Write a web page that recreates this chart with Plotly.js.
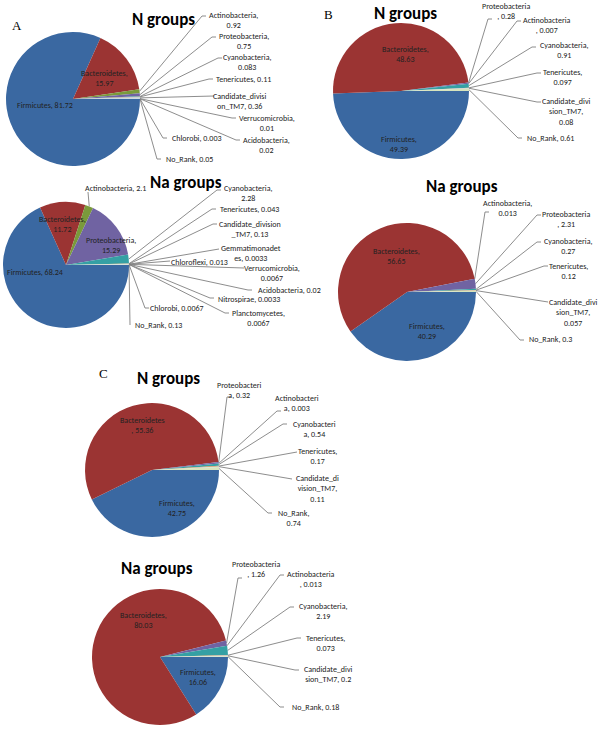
<!DOCTYPE html>
<html><head><meta charset="utf-8">
<script src="https://cdn.plot.ly/plotly-3.0.1.min.js"></script>
<style>html,body{margin:0;padding:0;background:#fff}#chart{width:604px;height:733px}</style>
</head><body><div id="chart"></div>
<script>
// ---------------- DATA ----------------
const A_N_names = ['Firmicutes','Bacteroidetes','Actinobacteria','Proteobacteria','Cyanobacteria','Tenericutes','Candidate_division_TM7','Verrucomicrobia','Acidobacteria','Chlorobi','No_Rank'];
const A_N_values = [81.72,15.97,0.92,0.75,0.083,0.11,0.36,0.01,0.02,0.003,0.05];

const A_Na_names = ['Firmicutes','Bacteroidetes','Actinobacteria','Proteobacteria','Cyanobacteria','Tenericutes','Candidate_division_TM7','Gemmatimonadetes','Chloroflexi','Verrucomicrobia','Acidobacteria','Nitrospirae','Planctomycetes','Chlorobi','No_Rank'];
const A_Na_values = [68.24,11.72,2.1,15.29,2.28,0.043,0.13,0.0033,0.013,0.0067,0.02,0.0033,0.0067,0.0067,0.13];

const B_N_names = ['Firmicutes','Bacteroidetes','Proteobacteria','Actinobacteria','Cyanobacteria','Tenericutes','Candidate_division_TM7','No_Rank'];
const B_N_values = [49.39,48.63,0.28,0.007,0.91,0.097,0.08,0.61];

const B_Na_names = ['Firmicutes','Bacteroidetes','Actinobacteria','Proteobacteria','Cyanobacteria','Tenericutes','Candidate_division_TM7','No_Rank'];
const B_Na_values = [40.29,56.65,0.013,2.31,0.27,0.12,0.057,0.3];

const C_N_names = ['Firmicutes','Bacteroidetes','Proteobacteria','Actinobacteria','Cyanobacteria','Tenericutes','Candidate_division_TM7','No_Rank'];
const C_N_values = [42.75,55.36,0.32,0.003,0.54,0.17,0.11,0.74];

const C_Na_names = ['Firmicutes','Bacteroidetes','Proteobacteria','Actinobacteria','Cyanobacteria','Tenericutes','Candidate_division_TM7','No_Rank'];
const C_Na_values = [16.06,80.03,1.26,0.013,2.19,0.073,0.2,0.18];

const panelTitles = ['N groups','Na groups','N groups','Na groups','N groups','Na groups'];
const panelLetters = ['A','B','C'];

// ---------------- STYLE ----------------
const colorMap = {
  Firmicutes:'#3A68A1', Bacteroidetes:'#9B3433', Actinobacteria:'#7A9A3B', Proteobacteria:'#7063A2',
  Cyanobacteria:'#35A0A4', Tenericutes:'#E08B3E', Candidate_division_TM7:'#B9CDE5', No_Rank:'#D7E4BD',
  Verrucomicrobia:'#E6B9B8', Acidobacteria:'#CCC1DA', Chlorobi:'#B7DEE8', Gemmatimonadetes:'#FCD5B5',
  Chloroflexi:'#8EB4E3', Nitrospirae:'#D99694', Planctomycetes:'#C3D69B'
};
const W = 604, H = 733;
const LBL_FONT = {family:'Carlito, Lato, sans-serif', size:8, color:'#222222'};

// label layouts per slice: [format, kind, textCenterX, firstLineY, lineEndX, lineEndY, tick]
const A_N_lay = [
 ['Firmicutes, {v}','in',45,104],
 ['Bacteroidetes,<br>{v}','in',104,72],
 ['Actinobacteria,<br>{v}','out',233,14,202,16,4],
 ['Proteobacteria,<br>{v}','out',244,35,212,37,4],
 ['Cyanobacteria,<br>{v}','out',247,56,218,58,4],
 ['Tenericutes, {v}','out',243,78,209,79,4],
 ['Candidate_divisi<br>on_TM7, {v}','out',240,95,210,96,4],
 ['Verrucomicrobia,<br>{v}','out',267,117,232,118,4],
 ['Acidobacteria,<br>{v}','out',266,139,236,140,4],
 ['Chlorobi, {v}','out',196,137,163,138,4],
 ['No_Rank, {v}','out',189,158,157,159,4]
];
const A_Na_lay = [
 ['Firmicutes, {v}','in',35,271],
 ['Bacteroidetes,<br>{v}','in',62,218],
 ['Actinobacteria, {v}','out',115,187,88,192,0],
 ['Proteobacteria,<br>{v}','in',111,239],
 ['Cyanobacteria,<br>{v}','out',248,187,217,190,4],
 ['Tenericutes, {v}','out',249,208,212,209,4],
 ['Candidate_division<br>_TM7, {v}','out',250,223,213,224,4],
 ['Gemmatimonadet<br>es, {v}','out',251,247,215,249,4],
 ['Chloroflexi, {v}','out',199,261,166,261,4],
 ['Verrucomicrobia,<br>{v}','out',272,267,240,268,4],
 ['Acidobacteria, {v}','out',289,289,248,290,4],
 ['Nitrospirae, {v}','out',249,298,210,298,4],
 ['Planctomycetes,<br>{v}','out',258,312,225,313,4],
 ['Chlorobi, {v}','out',177,307,145,308,4],
 ['No_Rank, {v}','out',158,324,130,325,0]
];
const B_N_lay = [
 ['Firmicutes,<br>{v}','in',399,138],
 ['Bacteroidetes,<br>{v}','in',405,48],
 ['Proteobacteria<br>, {v}','out',506,5,488,19,4],
 ['Actinobacteria<br>, {v}','out',547,19,517,21,4],
 ['Cyanobacteria,<br>{v}','out',564,44,532,47,4],
 ['Tenericutes,<br>{v}','out',562,71,537,73,4],
 ['Candidate_divi<br>sion_TM7,<br>{v}','out',566,100,537,102,4],
 ['No_Rank, {v}','out',550,137,518,138,4]
];
const B_Na_lay = [
 ['Firmicutes,<br>{v}','in',427,325],
 ['Bacteroidetes,<br>{v}','in',396,250],
 ['Actinobacteria,<br>{v}','out',507,202,485,212,4],
 ['Proteobacteria<br>, {v}','out',566,213,537,215,4],
 ['Cyanobacteria,<br>{v}','out',568,240,537,242,4],
 ['Tenericutes,<br>{v}','out',568,265,544,266,4],
 ['Candidate_divi<br>sion_TM7,<br>{v}','out',573,301,544,302,4],
 ['No_Rank, {v}','out',550,338,520,340,4]
];
const C_N_lay = [
 ['Firmicutes,<br>{v}','in',177,502],
 ['Bacteroidetes<br>, {v}','in',142,419],
 ['Proteobacteri<br>a, {v}','out',240,384,227,397,4],
 ['Actinobacteri<br>a, {v}','out',297,397,277,411,4],
 ['Cyanobacteri<br>a, {v}','out',314,423,283,424,4],
 ['Tenericutes,<br>{v}','out',317,450,293,452,4],
 ['Candidate_di<br>vision_TM7,<br>{v}','out',317,477,288,479,4],
 ['No_Rank,<br>{v}','out',293,512,268,513,4]
];
const C_Na_lay = [
 ['Firmicutes,<br>{v}','in',198,671],
 ['Bacteroidetes,<br>{v}','in',143,614],
 ['Proteobacteria<br>, {v}','out',256,563,238,578,4],
 ['Actinobacteria<br>, {v}','out',311,573,280,575,4],
 ['Cyanobacteria,<br>{v}','out',323,605,290,607,4],
 ['Tenericutes,<br>{v}','out',325,637,297,638,4],
 ['Candidate_divi<br>sion_TM7, {v}','out',328,668,295,670,4],
 ['No_Rank, {v}','out',315,706,280,707,4]
];

// pie geometry (pixels) and title positions
const pies = [
 {names:A_N_names, values:A_N_values, lay:A_N_lay, cx:73, cy:99, r:67, tx:163, ty:19},
 {names:A_Na_names, values:A_Na_values, lay:A_Na_lay, cx:66, cy:265, r:63, tx:186, ty:182},
 {names:B_N_names, values:B_N_values, lay:B_N_lay, cx:401, cy:91, r:68, tx:405, ty:13},
 {names:B_Na_names, values:B_Na_values, lay:B_Na_lay, cx:407, cy:292, r:69, tx:462, ty:187},
 {names:C_N_names, values:C_N_values, lay:C_N_lay, cx:152, cy:470, r:67, tx:168, ty:378},
 {names:C_Na_names, values:C_Na_values, lay:C_Na_lay, cx:160, cy:657, r:68, tx:157, ty:568}
];
const letterPos = [[17,25],[328,15],[103,373]];

// ---------------- BUILD ----------------
const px = x => x / W, py = y => 1 - y / H;
const traces = [];
const annotations = [];
const lx = [], ly = [];

pies.forEach((p, k) => {
  traces.push({
    type:'pie', labels:p.names, values:p.values, sort:false, direction:'clockwise', rotation:90,
    textinfo:'none', hoverinfo:'label+value', showlegend:false,
    marker:{colors:p.names.map(n => colorMap[n]), line:{width:0}},
    domain:{x:[px(p.cx-p.r), px(p.cx+p.r)], y:[py(p.cy+p.r), py(p.cy-p.r)]}
  });
  const total = p.values.reduce((a,b)=>a+b,0);
  let cum = 0;
  p.values.forEach((v, i) => {
    const mid = cum + v/2; cum += v;
    const th = 2*Math.PI*mid/total;
    const ex = p.cx + p.r*Math.cos(th), ey = p.cy + p.r*Math.sin(th);
    const L = p.lay[i];
    const txt = L[0].replace('{v}', String(v));
    annotations.push({xref:'paper', yref:'paper', x:px(L[2]), y:py(L[3]-5.2), xanchor:'center', yanchor:'top',
      text:txt, showarrow:false, align:'center', font:LBL_FONT, borderpad:0});
    if (L[1] === 'out') {
      lx.push(ex, L[4], L[4]+L[6], null);
      ly.push(ey, L[5], L[5], null);
    }
  });
  annotations.push({xref:'paper', yref:'paper', x:px(p.tx), y:py(p.ty), xanchor:'center', yanchor:'middle',
    text:'<b>'+panelTitles[k]+'</b>', showarrow:false,
    font:{family:'Carlito, Lato, sans-serif', size:17, color:'#000'}});
});
panelLetters.forEach((t, j) => {
  annotations.push({xref:'paper', yref:'paper', x:px(letterPos[j][0]), y:py(letterPos[j][1]), xanchor:'center', yanchor:'middle',
    text:t, showarrow:false, font:{family:'Liberation Serif, serif', size:13, color:'#000'}});
});
traces.push({type:'scatter', mode:'lines', x:lx, y:ly, hoverinfo:'skip', showlegend:false,
  line:{color:'#808080', width:0.9}, xaxis:'x', yaxis:'y'});

const layout = {
  width:W, height:H, margin:{l:0,r:0,t:0,b:0}, paper_bgcolor:'#fff', plot_bgcolor:'rgba(0,0,0,0)',
  showlegend:false,
  xaxis:{range:[0,W], visible:false, fixedrange:true, domain:[0,1]},
  yaxis:{range:[H,0], visible:false, fixedrange:true, domain:[0,1]},
  annotations:annotations
};
Plotly.newPlot('chart', traces, layout, {staticPlot:true, displayModeBar:false});
</script>
</body></html>
